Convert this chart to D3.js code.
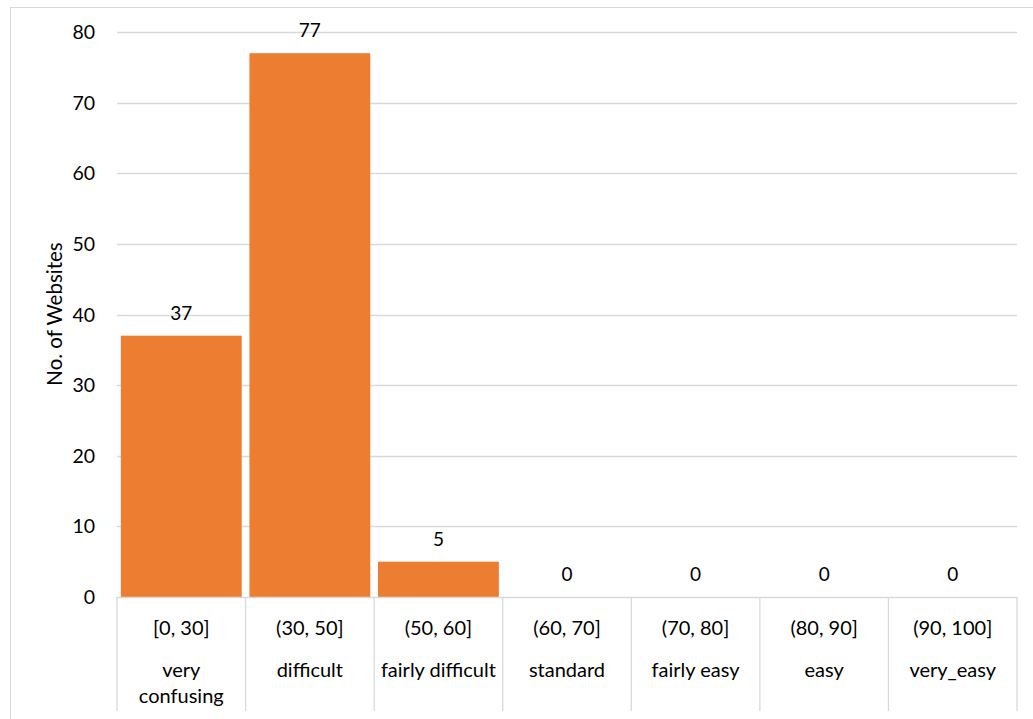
<!DOCTYPE html>
<html><head><meta charset="utf-8">
<script src="https://cdn.jsdelivr.net/npm/d3@7"></script>
<style>body{margin:0;background:#fff}svg{display:block}text{font-family:Lato,"Open Sans",sans-serif;fill:#000}</style>
</head><body><svg id="c" width="1033" height="719"></svg>
<script>
const ranges = ["[0, 30]","(30, 50]","(50, 60]","(60, 70]","(70, 80]","(80, 90]","(90, 100]"];
const levels = [["very","confusing"],["difficult"],["fairly difficult"],["standard"],["fairly easy"],["easy"],["very_easy"]];
const counts = [37,77,5,0,0,0,0];
const yTicks = [0,10,20,30,40,50,60,70,80];
const yTitle = "No. of Websites";

const svg = d3.select("#c");
const L=117,R=1017,T=32,B=597;
const x = d3.scaleBand().domain(ranges).range([L,R]).paddingInner(0.06).paddingOuter(0.03);
const step = (R-L)/ranges.length;
const y = d3.scaleLinear().domain([0,80]).range([B,T]);

svg.append("rect").attr("x",10.5).attr("y",7.5).attr("width",1040).attr("height",730).attr("fill","none").attr("stroke","#d9d9d9");

svg.append("g").selectAll("line").data(yTicks.filter(d=>d>0)).join("line")
 .attr("x1",L).attr("x2",R).attr("y1",d=>Math.round(y(d))+0.5).attr("y2",d=>Math.round(y(d))+0.5)
 .attr("stroke","#d9d9d9").attr("stroke-width",1.3);

svg.append("g").selectAll("text").data(yTicks).join("text")
 .attr("x",95).attr("y",d=>y(d)).attr("dy","0.36em").attr("text-anchor","end")
 .attr("font-size",19.5).text(d=>d);

svg.append("g").selectAll("rect").data(counts).join("rect")
 .attr("x",(d,i)=>x(ranges[i])).attr("width",x.bandwidth())
 .attr("y",d=>y(d)).attr("height",d=>B-y(d)).attr("fill","#ED7D31");

svg.append("g").selectAll("text").data(counts).join("text")
 .attr("x",(d,i)=>x(ranges[i])+x.bandwidth()/2).attr("y",d=>y(d)-16)
 .attr("text-anchor","middle").attr("font-size",19).text(d=>d);

svg.append("line").attr("x1",L).attr("x2",R).attr("y1",B+0.5).attr("y2",B+0.5).attr("stroke","#d9d9d9").attr("stroke-width",1.3);
svg.append("g").selectAll("line").data(d3.range(ranges.length+1)).join("line")
 .attr("x1",i=>L+i*step).attr("x2",i=>L+i*step).attr("y1",B).attr("y2",711)
 .attr("stroke","#d9d9d9").attr("stroke-width",1.3);

const cx = i=>L+step*(i+0.5);
svg.append("g").selectAll("text").data(ranges).join("text")
 .attr("x",(d,i)=>cx(i)).attr("y",635).attr("text-anchor","middle").attr("font-size",20).text(d=>d);
levels.forEach((lv,i)=>{
  lv.forEach((t,j)=>{
    svg.append("text").attr("x",cx(i)).attr("y",677+j*26).attr("text-anchor","middle").attr("font-size",20).text(t);
  });
});

svg.append("text").attr("transform","translate(62,314) rotate(-90)").attr("text-anchor","middle")
 .attr("font-size",20.5).text(yTitle);
</script></body></html>
